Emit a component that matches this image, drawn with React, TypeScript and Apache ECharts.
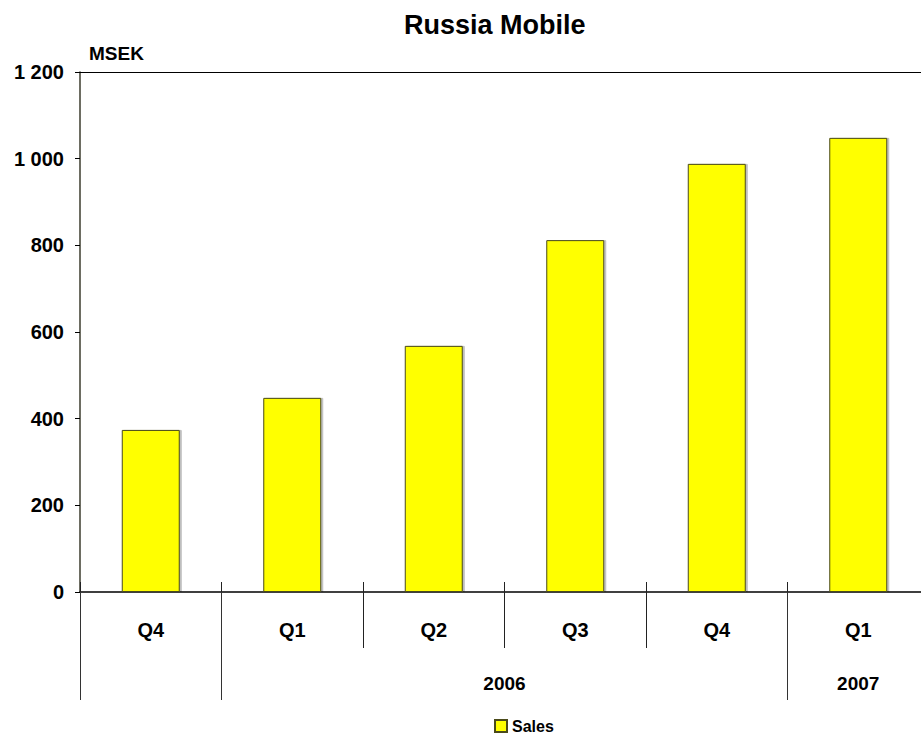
import React, { useEffect, useRef } from "react";
import * as echarts from "echarts";

const quarters = ["Q4", "Q1", "Q2", "Q3", "Q4", "Q1"];
const years = ["2005", "2006", "2006", "2006", "2006", "2007"];
const sales = [374, 448, 568, 812, 988, 1048];
const yTicks = [0, 200, 400, 600, 800, 1000, 1200];

const FONT = "'Liberation Sans', Arial, sans-serif";

export default function App() {
  const ref = useRef<HTMLDivElement>(null);
  useEffect(() => {
    if (!ref.current) return;
    const chart = echarts.init(ref.current, null, { renderer: "svg" });
    const categories = quarters.map((q, i) => q + " " + years[i]);
    const axisColor = "#3d3d2e";
    const isYearStart = (i: number) => i === 0 || years[i] !== years[i - 1];
    chart.setOption({
      animation: false,
      backgroundColor: "#ffffff",
      textStyle: { fontFamily: FONT },
      title: {
        text: "Russia Mobile",
        left: 399,
        top: 6,
        textStyle: { fontSize: 27, fontWeight: "bold", color: "#000", fontFamily: FONT },
      },
      legend: {
        bottom: 2,
        left: 489,
        icon: "rect",
        itemWidth: 12,
        itemHeight: 12,
        itemGap: 4,
        textStyle: { fontSize: 16, fontWeight: "bold", color: "#000", fontFamily: FONT },
        data: ["Sales"],
      },
      grid: { left: 80, top: 72, bottom: 149, right: 1, containLabel: false },
      xAxis: [
        {
          type: "category",
          data: categories,
          position: "bottom",
          axisLine: { show: true, lineStyle: { color: "#000", width: 1.5 } },
          axisTick: { show: true, length: 56, lineStyle: { color: "#222", width: 1 } },
          axisLabel: {
            margin: 28,
            fontSize: 20,
            fontWeight: "bold",
            color: "#000",
            fontFamily: FONT,
            formatter: (v: string) => v.split(" ")[0],
          },
        },
        {
          type: "category",
          data: categories,
          position: "bottom",
          axisLine: { show: false },
          axisTick: { show: true, inside: true, length: 10, lineStyle: { color: "#222", width: 1 } },
          axisLabel: { show: false },
        },
        {
          type: "category",
          data: categories,
          position: "bottom",
          axisLine: { show: false },
          axisTick: {
            show: true,
            length: 108,
            interval: (i: number) => isYearStart(i),
            lineStyle: { color: "#333", width: 1 },
          },
          axisLabel: { show: false },
        },
        {
          type: "category",
          data: categories,
          position: "top",
          axisLine: { show: true, lineStyle: { color: "#000", width: 1 } },
          axisTick: { show: false },
          axisLabel: { show: false },
        },
      ],
      yAxis: {
        type: "value",
        min: yTicks[0],
        max: yTicks[yTicks.length - 1],
        interval: 200,
        name: "MSEK",
        nameLocation: "end",
        nameGap: 9,
        nameTextStyle: { fontSize: 19, fontWeight: "bold", color: "#000", align: "left", padding: [0, 0, 0, 9], fontFamily: FONT },
        axisLine: { show: true, lineStyle: { color: axisColor, width: 1.5 } },
        axisTick: { show: true, length: 5, lineStyle: { color: "#000" } },
        splitLine: { show: false },
        axisLabel: {
          margin: 16,
          fontSize: 20,
          fontWeight: "bold",
          color: "#000",
          fontFamily: FONT,
          formatter: (v: number) => String(v).replace(/\B(?=(\d{3})+(?!\d))/g, " "),
        },
      },
      series: [
        {
          name: "Sales",
          type: "bar",
          xAxisIndex: 0,
          data: sales,
          barWidth: 58,
          itemStyle: {
            color: "#ffff00",
            borderColor: "#4a4a1a",
            borderWidth: 1,
            shadowColor: "rgba(0,0,0,0.25)",
            shadowOffsetX: 2,
            shadowOffsetY: 0,
            shadowBlur: 0,
          },
        },
      ],
    });

    // year labels centred under their spans of quarters
    const groups: { year: string; first: number; last: number }[] = [];
    years.forEach((y, i) => {
      const g = groups[groups.length - 1];
      if (g && g.year === y) g.last = i;
      else groups.push({ year: y, first: i, last: i });
    });
    const baseY = chart.convertToPixel({ yAxisIndex: 0 }, 0) as number;
    const texts = groups
      .filter((g) => g.year !== "2005")
      .map((g) => {
        const x1 = chart.convertToPixel({ xAxisIndex: 0 }, g.first) as number;
        const x2 = chart.convertToPixel({ xAxisIndex: 0 }, g.last) as number;
        return {
          type: "text",
          x: (x1 + x2) / 2,
          y: baseY + 91,
          style: {
            text: g.year,
            fill: "#000",
            font: "bold 19px " + FONT,
            textAlign: "center",
            textVerticalAlign: "middle",
          },
        };
      });
    chart.setOption({ graphic: texts });

    return () => chart.dispose();
  }, []);
  return (
    <div
      ref={ref}
      style={{ position: "fixed", left: 0, top: 0, width: 930, height: 741, background: "#fff" }}
    />
  );
}
